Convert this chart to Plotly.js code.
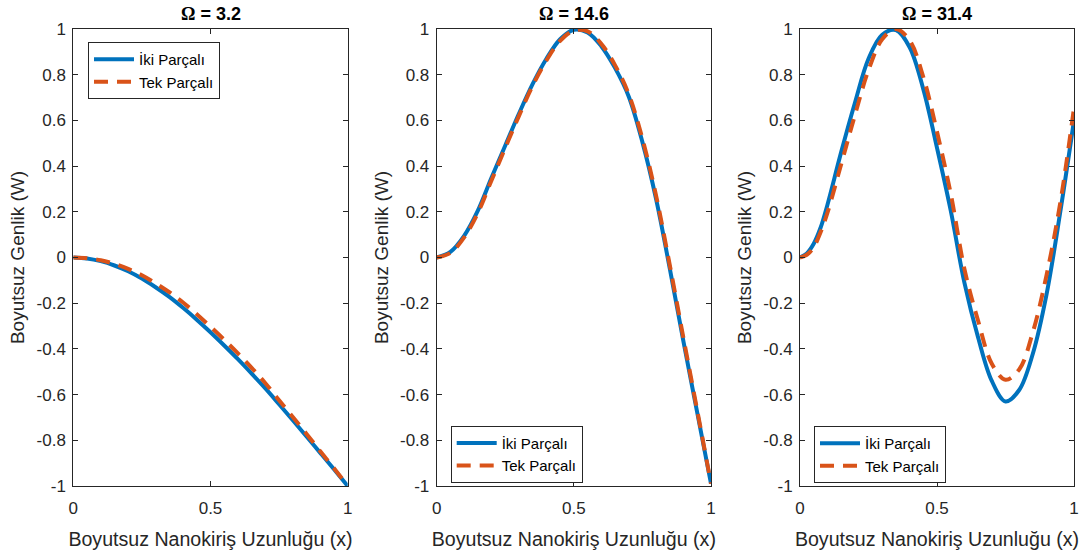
<!DOCTYPE html>
<html>
<head>
<meta charset="utf-8">
<script src="https://cdn.plot.ly/plotly-3.0.1.min.js"></script>
<style>html,body{margin:0;padding:0;background:#fff;}#plot{width:1083px;height:555px;}</style>
</head>
<body>
<div id="plot"></div>
<script>
// x positions along the beam (dimensionless)
const xs = [0,0.05,0.1,0.15,0.2,0.25,0.3,0.35,0.4,0.45,0.5,0.55,0.6,0.65,0.7,0.75,0.8,0.85,0.9,0.95,1];
const xs3 = [0,0.025,0.05,0.075,0.1,0.15,0.2,0.25,0.3,0.35,0.4,0.45,0.5,0.55,0.6,0.65,0.7,0.75,0.8,0.85,0.9,0.95,1];

// Panel titles (Ω value)
const omegaValues = ["3.2", "14.6", "31.4"];
const seriesNames = ["İki Parçalı", "Tek Parçalı"];

// Ω = 3.2
const iki1 = [0,-0.004,-0.016,-0.035,-0.06,-0.092,-0.13,-0.172,-0.22,-0.272,-0.327,-0.385,-0.445,-0.508,-0.573,-0.642,-0.712,-0.783,-0.855,-0.927,-1];
const tek1 = [0,-0.003,-0.012,-0.028,-0.05,-0.078,-0.113,-0.152,-0.197,-0.248,-0.303,-0.36,-0.42,-0.483,-0.55,-0.625,-0.698,-0.772,-0.848,-0.922,-1];

// Ω = 14.6
const iki2 = [0,0.025,0.095,0.205,0.35,0.49,0.63,0.76,0.87,0.955,0.997,0.985,0.925,0.83,0.705,0.505,0.255,-0.05,-0.37,-0.68,-0.99];
const tek2 = [0,0.02,0.088,0.195,0.338,0.48,0.62,0.752,0.862,0.948,0.993,0.99,0.935,0.842,0.715,0.52,0.27,-0.035,-0.355,-0.67,-0.99];

// Ω = 31.4 (on xs3)
const iki3 = [0,0.018,0.06,0.13,0.23,0.46,0.675,0.87,0.975,0.995,0.92,0.737,0.48,0.206,-0.11,-0.35,-0.54,-0.63,-0.58,-0.42,-0.16,0.2,0.6];
const tek3 = [0,0.012,0.045,0.11,0.195,0.407,0.621,0.82,0.955,1.0,0.95,0.79,0.55,0.28,-0.05,-0.277,-0.465,-0.535,-0.49,-0.326,-0.076,0.24,0.655];

// Tick values / labels
const xTickVals = [0, 0.5, 1];
const xTickText = ["0", "0.5", "1"];
const yTickVals = [-1,-0.8,-0.6,-0.4,-0.2,0,0.2,0.4,0.6,0.8,1];
const yTickText = ["-1","-0.8","-0.6","-0.4","-0.2","0","0.2","0.4","0.6","0.8","1"];

const xTitle = "Boyutsuz Nanokiriş Uzunluğu (x)";
const yTitle = "Boyutsuz Genlik (W)";

const BLUE = "#0072BD", ORANGE = "#D95319", AX = "#262626";
const FONT = "Liberation Sans, Arial, sans-serif";

const xSets = [xs, xs, xs3];
const ikiSets = [iki1, iki2, iki3];
const tekSets = [tek1, tek2, tek3];
const legendIds = ["legend", "legend2", "legend3"];

const data = [];
for (let i = 0; i < 3; i++) {
  const xa = i === 0 ? "x" : "x" + (i + 1);
  const ya = i === 0 ? "y" : "y" + (i + 1);
  data.push({x: xSets[i], y: ikiSets[i], type: "scatter", mode: "lines", name: seriesNames[0],
    xaxis: xa, yaxis: ya, legend: legendIds[i],
    line: {color: BLUE, width: 4, shape: "spline", smoothing: 1}});
  data.push({x: xSets[i], y: tekSets[i], type: "scatter", mode: "lines", name: seriesNames[1],
    xaxis: xa, yaxis: ya, legend: legendIds[i],
    line: {color: ORANGE, width: 4, dash: "14px,9px", shape: "spline", smoothing: 1}});
}

const W = 1083, H = 555;
const xDomains = [[73.3/W, 347.7/W], [436.7/W, 711/W], [800/W, 1074/W]];
const yDomain = [(H-486)/H, (H-29)/H];

function xAxis(i) {
  return {domain: xDomains[i], range: [0, 1], anchor: i === 0 ? "y" : "y" + (i + 1),
    tickvals: xTickVals, ticktext: xTickText, ticks: "inside", ticklen: 5, tickcolor: AX,
    ticklabelstandoff: 7,
    showline: true, linecolor: AX, linewidth: 1, mirror: "ticks", showgrid: false, zeroline: false,
    tickfont: {family: FONT, size: 17, color: AX},
    title: {text: xTitle, font: {family: FONT, size: 19.6, color: AX}, standoff: 14},
    fixedrange: true, automargin: false};
}
function yAxis(i) {
  return {domain: yDomain, range: [-1, 1], anchor: i === 0 ? "x" : "x" + (i + 1),
    tickvals: yTickVals, ticktext: yTickText, ticks: "inside", ticklen: 5, tickcolor: AX,
    ticklabelstandoff: 3,
    showline: true, linecolor: AX, linewidth: 1, mirror: "ticks", showgrid: false, zeroline: false,
    tickfont: {family: FONT, size: 17, color: AX},
    title: {text: yTitle, font: {family: FONT, size: 19, color: AX}, standoff: 6},
    fixedrange: true, automargin: false};
}

const legendBase = {xref: "paper", yref: "paper", xanchor: "left", yanchor: "top",
  bgcolor: "#ffffff", bordercolor: AX, borderwidth: 1,
  font: {family: FONT, size: 15, color: "#000"}, itemwidth: 40, tracegroupgap: 0};

const annotations = omegaValues.map((v, i) => ({
  text: "<b><span style=\"font-family:'Liberation Serif',serif\">Ω</span> = " + v + "</b>",
  xref: "paper", yref: "paper",
  x: (xDomains[i][0] + xDomains[i][1]) / 2, y: (H - 14) / H,
  xanchor: "center", yanchor: "middle", showarrow: false,
  font: {family: FONT, size: 18, color: "#000"}
}));

const layout = {
  width: W, height: H,
  margin: {l: 0, r: 0, t: 0, b: 0},
  paper_bgcolor: "#fff", plot_bgcolor: "#fff",
  showlegend: true,
  xaxis: xAxis(0), xaxis2: xAxis(1), xaxis3: xAxis(2),
  yaxis: yAxis(0), yaxis2: yAxis(1), yaxis3: yAxis(2),
  legend: Object.assign({}, legendBase, {x: 88/W, y: (H-42)/H}),
  legend2: Object.assign({}, legendBase, {x: 450.7/W, y: (H-425.7)/H}),
  legend3: Object.assign({}, legendBase, {x: 814/W, y: (H-426)/H}),
  annotations: annotations
};

Plotly.newPlot("plot", data, layout, {displayModeBar: false, staticPlot: true});
</script>
</body>
</html>
